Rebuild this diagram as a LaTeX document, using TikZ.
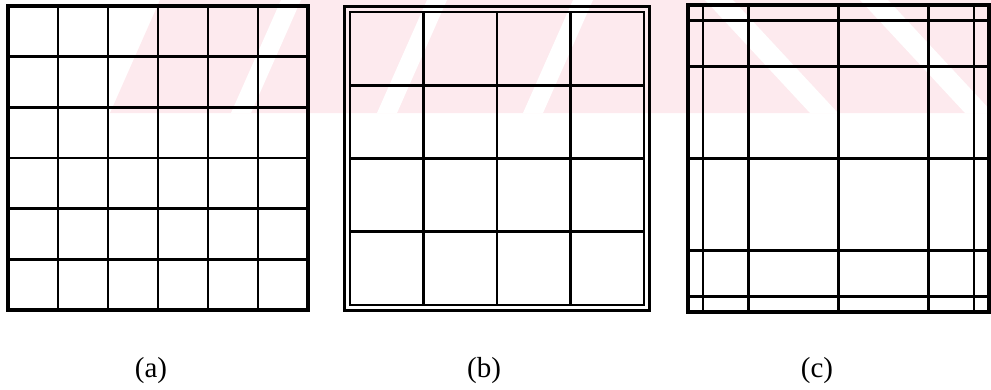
\documentclass[tikz,border=0pt]{standalone}
\usepackage{fontspec}
\setmainfont{Liberation Serif}
\definecolor{wm}{RGB}{253,234,238}
\begin{document}
\begin{tikzpicture}[x=1pt,y=-1pt,
  gl/.style={line width=2.8pt,line cap=rect,black},
  ol/.style={line width=3.2pt,line join=miter,black},
  dl/.style={line width=2.6pt,line join=miter,black},
  lab/.style={font=\fontsize{29}{33}\selectfont,inner sep=0pt}]
\useasboundingbox (0,0) rectangle (991,389);
% faint watermark
\fill[wm] (110,113) -- (160,0) -- (991,0) -- (991,113) -- cycle;
\foreach \b in {231,377,523}
  \fill[white] (\b,113) -- ({\b+50},0) -- ({\b+70},0) -- ({\b+20},113) -- cycle;
\foreach \t/\w in {705/28,860/28}
  \fill[white] (\t,0) -- ({\t+\w},0) -- ({\t+\w+105},113) -- ({\t+105},113) -- cycle;
% (a) uniform 6x6 grid
\foreach \i in {0,...,6}
  \draw[gl] ({8+50*\i},6) -- ({8+50*\i},310);
\foreach \j in {0,...,6}
  \draw[gl] (8,{6+304/6*\j}) -- (308,{6+304/6*\j});
\draw[ol] (8,6) rectangle (308,310);
% (b) 4x4 grid with double border
\draw[dl] (344.5,6.5) rectangle (649.5,310.5);
\foreach \i in {0,...,4}
  \draw[gl] ({350+73.5*\i},12) -- ({350+73.5*\i},305);
\foreach \j in {0,...,4}
  \draw[gl] (350,{12+73.25*\j}) -- (644,{12+73.25*\j});
\draw[dl] (350,12) rectangle (644,305);
% (c) graded grid
\foreach \f in {0,0.05,0.2,0.5,0.8,0.95,1}
  \draw[gl] ({688+301*\f},5) -- ({688+301*\f},312);
\foreach \f in {0,0.05,0.2,0.5,0.8,0.95,1}
  \draw[gl] (688,{5+307*\f}) -- (989,{5+307*\f});
\draw[ol] (688,5) rectangle (989,312);
% labels
\node[lab] (la) at (151,371) {(a)};
\node[lab] (lb) at (484,371) {(b)};
\node[lab] (lc) at (817,371) {(c)};
\end{tikzpicture}
\end{document}
